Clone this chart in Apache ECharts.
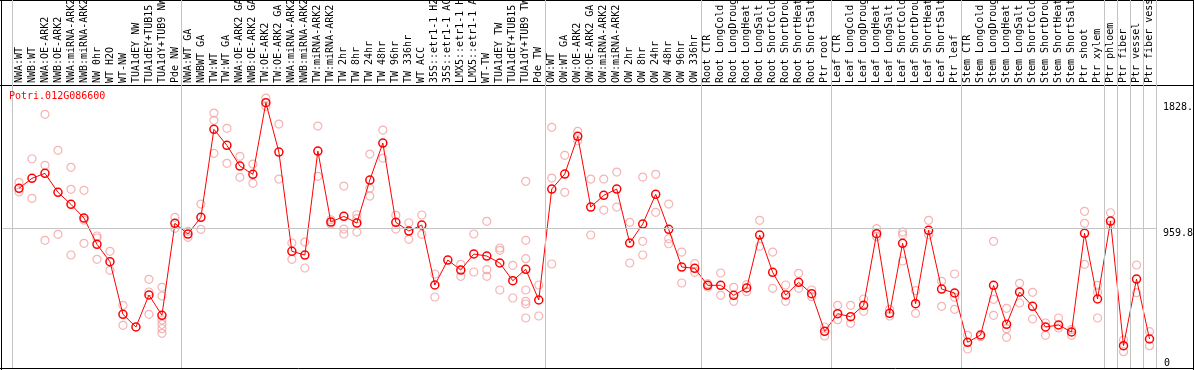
<!DOCTYPE html>
<html>
<head>
<meta charset="utf-8">
<script src="https://cdn.jsdelivr.net/npm/echarts@6/dist/echarts.min.js"></script>
<style>
html,body{margin:0;padding:0;background:#fff;}
#chart{width:1194px;height:370px;}
</style>
</head>
<body>
<div id="chart"></div>
<script>
var geneId = 'Potri.012G086600';

var categories = [
  'NWA:WT','NWB:WT','NWA:OE-ARK2','NWB:OE-ARK2','NWA:miRNA-ARK2','NWB:miRNA-ARK2','NW 0hr','WT H2O','WT-NW','TUA1dEY NW','TUA1dEY+TUB15 NW','TUA1dY+TUB9 NW','Pde NW',
  'NWA:WT GA','NWBWT GA','TW:WT','TW:WT GA','NWA:OE-ARK2 GA','NWB:OE-ARK2 GA','TW:OE-ARK2','TW:OE-ARK2 GA','NWA:miRNA-ARK2 GA','NWB:miRNA-ARK2 GA','TW:miRNA-ARK2','TW:miRNA-ARK2 GA',
  'TW 2hr','TW 8hr','TW 24hr','TW 48hr','TW 96hr','TW 336hr','WT ACC','35S::etr1-1 H2O','35S::etr1-1 ACC','LMX5::etr1-1 H2O','LMX5::etr1-1 ACC','WT-TW','TUA1dEY TW','TUA1dEY+TUB15 TW','TUA1dY+TUB9 TW','Pde TW',
  'OW:WT','OW:WT GA','OW:OE-ARK2','OW:OE-ARK2 GA','OW:miRNA-ARK2','OW:miRNA-ARK2 GA','OW 2hr','OW 8hr','OW 24hr','OW 48hr','OW 96hr','OW 336hr',
  'Root CTR','Root LongCold','Root LongDrought','Root LongHeat','Root LongSalt','Root ShortCold','Root ShortDrought','Root ShortHeat','Root ShortSalt','Ptr root',
  'Leaf CTR','Leaf LongCold','Leaf LongDrought','Leaf LongHeat','Leaf LongSalt','Leaf ShortCold','Leaf ShortDrought','Leaf ShortHeat','Leaf ShortSalt','Ptr leaf',
  'Stem CTR','Stem LongCold','Stem LongDrought','Stem LongHeat','Stem LongSalt','Stem ShortCold','Stem ShortDrought','Stem ShortHeat','Stem ShortSalt','Ptr shoot','Ptr xylem',
  'Ptr phloem','Ptr fiber','Ptr vessel','Ptr fiber vessel'
];

var means = [
  1238.1,1307.0,1341.5,1210.6,1127.9,1033.5,852.3,732.4,370.0,282.5,
  503.0,363.1,997.0,923.3,1038.3,1644.6,1534.4,1391.8,1334.6,1828.6,
  1488.2,804.1,778.6,1495.1,1005.9,1045.2,999.1,1295.3,1550.3,1003.9,
  943.9,985.3,571.9,744.1,675.2,785.5,771.7,723.5,601.5,680.0,
  468.5,1233.3,1336.7,1596.4,1109.3,1189.9,1233.3,861.3,992.2,1196.8,
  955.6,695.9,686.9,569.8,569.8,500.9,551.2,916.4,659.4,503.0,
  590.5,511.9,252.9,374.1,353.5,432.0,925.3,376.9,859.2,443.0,
  948.8,544.3,516.8,177.1,227.4,569.8,301.1,523.6,425.1,282.5,
  296.3,248.0,928.1,475.4,1012.8,153.6,613.2,199.8
];

var replicates = [
  [1279.5,1212.6],[1442.1,1169.2],[1748.0,1396.6,879.9],[1500.0,921.2],[1382.8,1231.2,778.6],
  [1224.4,1019.7,859.2],[909.5,895.7,748.9],[804.1,673.2],[432.0,294.2],[],
  [611.1,523.6,370.0],[556.0,496.1,330.7,301.1,270.8,239.1],[1038.3,962.5],[941.9,900.5],[1130.0,955.6],
  [1757.0,1706.7,1479.3],[1651.5,1410.4],[1458.6,1313.9],[1405.6,1272.6],[1860.3,1803.1],
  [1681.2,1302.2],[861.3,748.9],[868.1,689.0],[1667.4,1320.8],[1021.8,992.2],
  [1254.0,957.7,923.3],[1056.2,1028.7,937.0],[1474.5,1240.2,1185.1],[1639.8,1446.9],[1052.1,957.7],
  [1001.1,886.7],[1054.2,921.2],[647.7,489.2],[],[714.5,631.8],
  [923.3,661.4],[1010.8,677.3,631.8],[826.8,811.0,537.4],[707.6,482.3],[1286.4,879.9,753.1,537.4,459.6,441.0,344.5],
  [571.9,358.3],[1658.4,1309.1,716.6],[1465.5,1210.6],[1630.9,1566.1],[1302.2,916.4],
  [1302.2,1088.6],[1350.4,1109.3],[1003.9,723.5],[1316.0,873.0,778.6],[1334.6,1072.8],
  [1130.0,890.9,856.4],[799.2,585.7],[718.6,659.4],[580.8,558.1],[654.6,500.9],
  [556.0,459.6],[573.9,525.7],[1017.7,838.5],[799.2,549.1],[571.9,459.6],
  [652.5,549.1],[537.4,491.3],[282.5,220.5],[432.0,332.8],[432.0,308.0],
  [475.4,390.7],[959.8,904.7],[404.4,358.3],[937.0,918.4,737.2],[532.6,376.9],
  [1017.7,918.4],[597.4,425.1],[647.7,487.1,404.4],[225.3,130.9],[215.7],
  [873.0,473.3,363.1],[411.3,270.8,211.5],[583.6,447.9],[521.6,337.6],[310.1,225.3],
  [344.5,275.6],[263.9,225.3],[1079.7,997.0,714.5],[569.8,523.6,344.5],[1070.0,985.3],
  [192.9,112.3],[709.7,518.8],[250.1,153.6]
];

var groupStarts = [0,13,41,53,63,73,84,85,86,87,88];
var refValue = 959.8;
var yTopLabels = [959.8, 1828.6];
var yBottomLabels = [0];

var FONT = 'DejaVu Sans Mono';
var chart = echarts.init(document.getElementById('chart'), null, {renderer:'canvas'});

var meanData = means.map(function(v,i){return [i+0.5, v];});
var repData = [];
replicates.forEach(function(arr,i){arr.forEach(function(v){repData.push([i+0.5, v]);});});

var option = {
  animation: false,
  backgroundColor: '#fff',
  title: {
    text: geneId, left: 9, top: 91, padding: 0,
    textStyle: {fontFamily: FONT, fontSize: 10, fontWeight: 'normal', color: '#ff0000'}
  },
  grid: {left: 2.5, right: 37, top: 0, bottom: 2, containLabel: false, outerBoundsMode: 'none'},
  xAxis: [{
    type: 'value', position: 'top', offset: -85,
    min: -10/13, max: 1145/13,
    axisLine: {show: false}, axisTick: {show: false}, splitLine: {show: false},
    axisLabel: {
      customValues: categories.map(function(_,i){return i+0.5;}),
      formatter: function(v){ return categories[Math.round(v-0.5)]; },
      rotate: 90, margin: 2, fontSize: 10, fontFamily: FONT, color: '#000',
      hideOverlap: false
    }
  }],
  yAxis: [{
    type: 'value', position: 'right', min: 0, max: 2536,
    axisLine: {show: false}, axisTick: {show: false}, splitLine: {show: false},
    axisLabel: {
      customValues: yTopLabels, formatter: function(v){return String(v);},
      margin: 6, verticalAlign: 'top', fontSize: 10, fontFamily: FONT, color: '#000'
    }
  },{
    type: 'value', position: 'right', min: 0, max: 2536,
    axisLine: {show: false}, axisTick: {show: false}, splitLine: {show: false},
    axisLabel: {
      customValues: yBottomLabels, formatter: function(v){return String(v);},
      margin: 7, verticalAlign: 'bottom', fontSize: 10, fontFamily: FONT, color: '#000'
    }
  }],
  series: [{
    type: 'scatter', z: 2, silent: true,
    data: repData,
    symbol: 'circle', symbolSize: 8,
    itemStyle: {color: 'rgba(255,255,255,0)', borderColor: '#f2a0a0', borderWidth: 1.2},
    markLine: {
      silent: true, symbol: ['none','none'], label: {show: false},
      lineStyle: {color: '#c4c4c4', width: 1, type: 'solid'},
      data: groupStarts.map(function(v){return {xAxis: v};}).concat([{yAxis: refValue}])
    }
  },{
    type: 'line', z: 3, silent: true,
    data: meanData,
    symbol: 'circle', symbolSize: 8, showAllSymbol: true,
    itemStyle: {color: 'rgba(255,255,255,0)', borderColor: '#ff0000', borderWidth: 1.5},
    lineStyle: {color: '#ff0000', width: 1}
  }],
  graphic: [
    {type:'line', shape:{x1:0,y1:0.5,x2:1194,y2:0.5}, style:{stroke:'#000',lineWidth:1}},
    {type:'line', shape:{x1:0,y1:85.5,x2:1194,y2:85.5}, style:{stroke:'#000',lineWidth:1}},
    {type:'line', shape:{x1:0,y1:368.5,x2:1194,y2:368.5}, style:{stroke:'#000',lineWidth:1}},
    {type:'line', shape:{x1:1.5,y1:0,x2:1.5,y2:370}, style:{stroke:'#000',lineWidth:1}},
    {type:'line', shape:{x1:1193.5,y1:0,x2:1193.5,y2:370}, style:{stroke:'#000',lineWidth:1}}
  ]
};
chart.setOption(option);
</script>
</body>
</html>
